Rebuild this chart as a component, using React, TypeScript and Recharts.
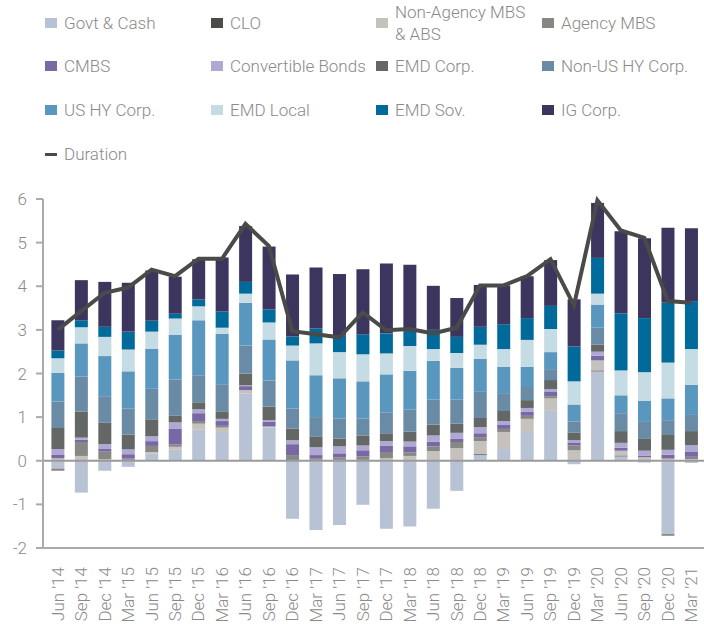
import React from 'react';
import { ComposedChart, Bar, Line, XAxis, YAxis, ReferenceLine } from 'recharts';

const quarters = [
  "Jun '14", "Sep '14", "Dec '14", "Mar '15", "Jun '15", "Sep '15", "Dec '15", "Mar '16", "Jun '16", "Sep '16",
  "Dec '16", "Mar '17", "Jun '17", "Sep '17", "Dec '17", "Mar '18", "Jun '18", "Sep '18", "Dec '18", "Mar '19",
  "Jun '19", "Sep '19", "Dec '19", "Mar '20", "Jun '20", "Sep '20", "Dec '20", "Mar '21",
];

const govtCash = [-0.18, -0.73, -0.23, -0.14, 0.16, 0.25, 0.71, 0.66, 1.55, 0.76, -1.33, -1.59, -1.47, -1.01, -1.56, -1.51, -1.1, -0.69, 0.13, 0.27, 0.66, 1.16, -0.08, 2.05, 0.1, -0.04, -1.68, -0.05];
const clo = [0, 0, 0, 0, 0, 0, 0, 0, 0, 0, 0, 0, 0, 0, 0, 0, 0, 0, 0.02, 0, 0, 0, 0, 0.02, 0.02, 0, 0, 0];
const nonAgency = [0.06, 0.11, 0.04, 0.02, 0.04, 0.07, 0.14, 0.1, 0.07, 0.02, 0, 0.02, 0.02, 0.02, 0.06, 0.11, 0.22, 0.29, 0.3, 0.39, 0.3, 0.27, 0.24, 0.23, 0.11, 0.08, 0.05, 0.04];
const agencyMbs = [-0.05, 0.32, 0.18, 0.03, 0.14, 0.05, 0.06, 0.04, 0, 0.01, 0.13, 0.04, 0.06, 0.08, 0.14, 0.08, 0.11, 0.14, 0.09, 0.07, 0.07, 0.05, 0.11, 0, 0, 0, -0.04, 0.05];
const cmbs = [0.07, 0.05, 0.05, 0.1, 0.11, 0.37, 0.18, 0.11, 0.09, 0.11, 0.25, 0.07, 0.09, 0.14, 0.14, 0.14, 0.11, 0.07, 0.09, 0.09, 0.09, 0.11, 0.07, 0.11, 0.07, 0.04, 0.09, 0.11];
const convertibles = [0.14, 0.05, 0.11, 0.11, 0.11, 0.14, 0.09, 0.05, 0.02, 0.03, 0.09, 0.18, 0.16, 0.11, 0.11, 0.11, 0.14, 0.14, 0.14, 0.09, 0.09, 0.05, 0.05, 0.09, 0.11, 0.11, 0.11, 0.16];
const emdCorp = [0.48, 0.6, 0.49, 0.34, 0.39, 0.16, 0.16, 0.16, 0.27, 0.31, 0.27, 0.25, 0.18, 0.23, 0.18, 0.23, 0.25, 0.21, 0.21, 0.23, 0.18, 0.21, 0.18, 0.16, 0.27, 0.27, 0.34, 0.32];
const nonUsHy = [0.61, 0.8, 0.61, 0.6, 0.7, 0.82, 0.62, 0.62, 0.64, 0.6, 0.46, 0.44, 0.46, 0.39, 0.48, 0.5, 0.57, 0.55, 0.6, 0.41, 0.3, 0.25, 0.25, 0.39, 0.41, 0.39, 0.34, 0.37];
const usHy = [0.65, 0.76, 0.92, 0.85, 0.92, 1.03, 1.26, 1.17, 0.98, 0.94, 1.1, 0.96, 0.92, 0.85, 0.87, 0.89, 0.89, 0.73, 0.76, 0.6, 0.46, 0.39, 0.39, 0.53, 0.41, 0.48, 0.5, 0.69];
const emdLocal = [0.34, 0.37, 0.44, 0.5, 0.39, 0.37, 0.32, 0.14, 0.21, 0.39, 0.34, 0.73, 0.6, 0.62, 0.48, 0.57, 0.27, 0.34, 0.32, 0.41, 0.62, 0.53, 0.53, 0.25, 0.57, 0.66, 0.82, 0.82];
const emdSov = [0.18, 0.16, 0.23, 0.41, 0.25, 0.11, 0.16, 0.37, 0.27, 0.3, 0.21, 0.34, 0.39, 0.46, 0.46, 0.37, 0.44, 0.37, 0.41, 0.57, 0.5, 0.53, 0.8, 0.82, 1.31, 1.24, 1.37, 1.1];
const igCorp = [0.69, 0.92, 1.03, 1.12, 1.15, 0.85, 0.92, 1.24, 1.28, 1.44, 1.42, 1.4, 1.4, 1.49, 1.6, 1.49, 1.01, 0.89, 0.96, 0.89, 0.96, 1.05, 1.08, 1.26, 1.88, 1.83, 1.72, 1.67];
const duration = [3.0, 3.43, 3.85, 3.97, 4.38, 4.23, 4.63, 4.63, 5.43, 4.92, 2.97, 2.9, 2.83, 3.4, 2.99, 3.02, 2.92, 3.05, 4.02, 4.02, 4.23, 4.62, 3.56, 5.97, 5.28, 5.11, 3.66, 3.62];

const yTicks = [-2, -1, 0, 1, 2, 3, 4, 5, 6];

const FONT = "Roboto, 'Noto Sans', sans-serif";
const TEXT = '#8a8a8a';

const series = [
  { key: 'govt', name: 'Govt & Cash', color: '#b7c3d5', values: govtCash },
  { key: 'clo', name: 'CLO', color: '#4b4d49', values: clo },
  { key: 'nonAgency', name: 'Non-Agency MBS & ABS', color: '#c5c1bd', values: nonAgency },
  { key: 'agency', name: 'Agency MBS', color: '#878784', values: agencyMbs },
  { key: 'cmbs', name: 'CMBS', color: '#7868a4', values: cmbs },
  { key: 'conv', name: 'Convertible Bonds', color: '#aea8d3', values: convertibles },
  { key: 'emdCorp', name: 'EMD Corp.', color: '#636867', values: emdCorp },
  { key: 'nonUsHy', name: 'Non-US HY Corp.', color: '#6a8ba6', values: nonUsHy },
  { key: 'usHy', name: 'US HY Corp.', color: '#5a97bf', values: usHy },
  { key: 'emdLocal', name: 'EMD Local', color: '#c6dce4', values: emdLocal },
  { key: 'emdSov', name: 'EMD Sov.', color: '#006a9a', values: emdSov },
  { key: 'ig', name: 'IG Corp.', color: '#3c355e', values: igCorp },
];

const data = quarters.map((q, i) => {
  const row: Record<string, number | string> = { name: q, duration: duration[i] };
  series.forEach((s) => {
    row[s.key] = s.values[i];
  });
  return row;
});

const colX = [45, 211, 376, 542];
const rowY = [23, 66, 110];

function LegendBlock() {
  return (
    <>
      {series.map((s, i) => {
        const x = colX[i % 4];
        const y = rowY[Math.floor(i / 4)];
        const twoLine = s.key === 'nonAgency';
        return (
          <div key={s.key}>
            <div style={{ position: 'absolute', left: x, top: y - 5, width: 12, height: 10, background: s.color }} />
            <div
              style={{
                position: 'absolute',
                left: x + 19,
                top: twoLine ? y - 22 : y - 11,
                fontSize: 17,
                fontWeight: 300,
                lineHeight: '22px',
                color: TEXT,
                fontFamily: FONT,
                whiteSpace: 'nowrap',
              }}
            >
              {twoLine ? (
                <>
                  Non-Agency MBS
                  <br />& ABS
                </>
              ) : (
                s.name
              )}
            </div>
          </div>
        );
      })}
      <div style={{ position: 'absolute', left: 45, top: 153, width: 12, height: 3, background: '#4a4b48' }} />
      <div style={{ position: 'absolute', left: 64, top: 143, fontSize: 17, fontWeight: 300, lineHeight: '22px', color: TEXT, fontFamily: FONT }}>
        Duration
      </div>
    </>
  );
}

function QuarterTick(props: any) {
  const { x, y, payload } = props;
  return (
    <text
      x={x}
      y={y + 19}
      transform={`rotate(-90 ${x} ${y + 19})`}
      textAnchor="end"
      dy="0.35em"
      fill={TEXT}
      fontSize={17}
      fontWeight={300}
      fontFamily={FONT}
    >
      {payload.value}
    </text>
  );
}

export default function App() {
  return (
    <div style={{ position: 'absolute', left: 0, top: 0, width: 704, height: 624, background: '#fff' }}>
      <LegendBlock />
      <ComposedChart
        width={704}
        height={624}
        data={data}
        stackOffset="sign"
        barCategoryGap="23%"
        margin={{ top: 199, right: 0, bottom: 0, left: 0 }}
      >
        <XAxis
          dataKey="name"
          interval={0}
          height={76}
          tickLine={false}
          tickSize={0}
          tickMargin={0}
          padding={{ left: 3, right: 1 }}
          axisLine={{ stroke: '#aaaaaa', strokeWidth: 2 }}
          tick={<QuarterTick />}
        />
        <YAxis
          width={43}
          domain={[-2, 6]}
          ticks={yTicks}
          interval={0}
          tickSize={7}
          tickMargin={9}
          axisLine={{ stroke: '#aaaaaa', strokeWidth: 2 }}
          tickLine={{ stroke: '#aaaaaa', strokeWidth: 2 }}
          tick={{ fill: TEXT, fontSize: 17, fontWeight: 300, fontFamily: FONT }}
        />
        {series.map((s) => (
          <Bar key={s.key} dataKey={s.key} name={s.name} stackId="a" fill={s.color} isAnimationActive={false} />
        ))}
        <ReferenceLine y={0} stroke="#9a9a9a" strokeWidth={2} />
        <Line
          type="linear"
          dataKey="duration"
          stroke="#4a4b48"
          strokeWidth={4}
          dot={false}
          activeDot={false}
          isAnimationActive={false}
        />
      </ComposedChart>
    </div>
  );
}
